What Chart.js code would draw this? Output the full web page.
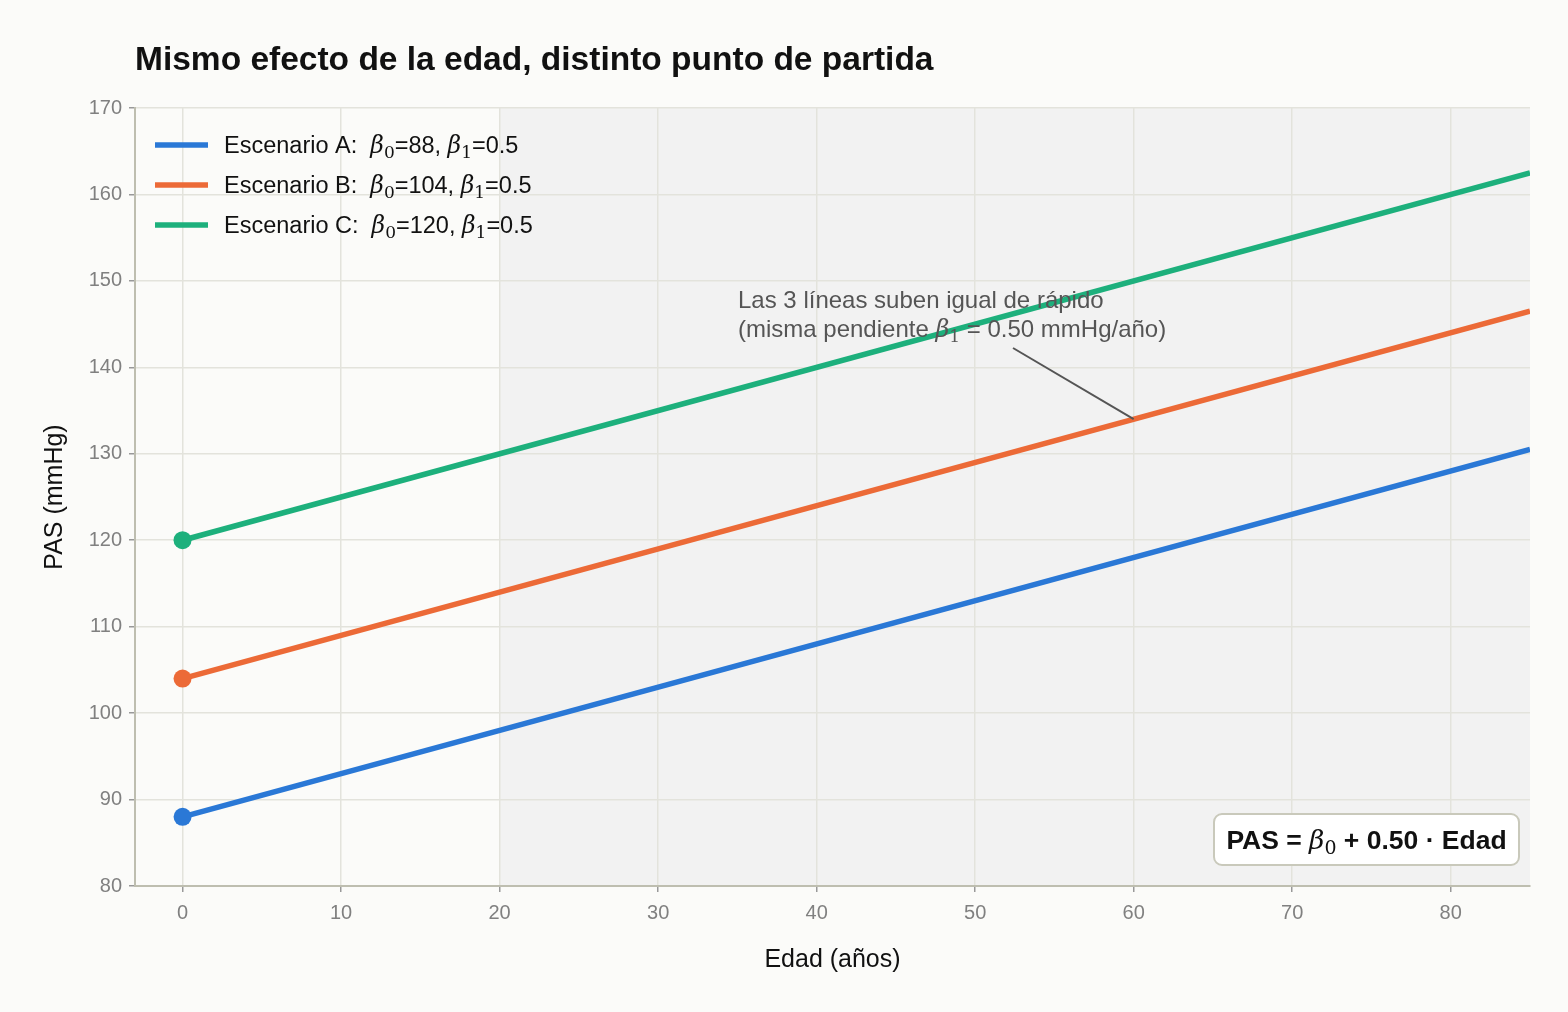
<!DOCTYPE html>
<html>
<head>
<meta charset="utf-8">
<script src="https://cdn.jsdelivr.net/npm/chart.js@4.4.1/dist/chart.umd.min.js"></script>
<style>
  html, body { margin: 0; padding: 0; background: #fbfbf9; }
  #wrap { width: 1568px; height: 1012px; }
</style>
</head>
<body>
<div id="wrap"><canvas id="chart" width="1568" height="1012"></canvas></div>
<script>
// datos
const edad = [0, 85];
const pasA = [88, 130.5];
const pasB = [104, 146.5];
const pasC = [120, 162.5];
const b0 = ['88', '104', '120'];
const b1 = '0.5';
const nombres = ['Escenario A', 'Escenario B', 'Escenario C'];
const colores = ['#2a78d6', '#ec6a37', '#1db07c'];
const xTicks = [0, 10, 20, 30, 40, 50, 60, 70, 80];
const zonaSombra = [20, 85];
const flecha = [60, 134]; // punto al que apunta la nota

const SANS = '"Liberation Sans", Arial, sans-serif';
const SERIF = '"DejaVu Serif", "Liberation Serif", serif';

// dibuja un texto con trozos de distinta fuente (para beta con subindice)
function richText(ctx, x, y, parts, align) {
    let w = 0;
    parts.forEach(p => { ctx.font = p.font; w += ctx.measureText(p.t).width; });
    let cx = align === 'center' ? x - w / 2 : x;
    parts.forEach(p => {
        ctx.font = p.font;
        ctx.fillText(p.t, cx, y + (p.dy || 0));
        cx += ctx.measureText(p.t).width;
    });
}

function betaParts(size) {
    return function (sub) {
        return [
            { t: 'β', font: 'italic ' + size + 'px ' + SERIF },
            { t: sub, font: Math.round(size * 0.72) + 'px ' + SERIF, dy: size * 0.2 }
        ];
    };
}

function toData(ys) {
    return edad.map((x, i) => ({ x: x, y: ys[i] }));
}

const extras = {
    id: 'extras',
    beforeDraw(chart) {
        const { ctx, chartArea, scales } = chart;
        ctx.save();
        ctx.fillStyle = '#fbfbf9';
        ctx.fillRect(0, 0, chart.width, chart.height);
        const x0 = scales.x.getPixelForValue(zonaSombra[0]);
        const x1 = scales.x.getPixelForValue(zonaSombra[1]);
        ctx.fillStyle = '#f2f2f2';
        ctx.fillRect(x0, chartArea.top, x1 - x0, chartArea.bottom - chartArea.top);
        // titulo
        ctx.fillStyle = '#111';
        ctx.font = 'bold 33.5px ' + SANS;
        ctx.textBaseline = 'alphabetic';
        ctx.fillText('Mismo efecto de la edad, distinto punto de partida', 135, 70);
        ctx.restore();
    },
    afterDraw(chart) {
        const { ctx, scales } = chart;
        ctx.save();
        ctx.textBaseline = 'alphabetic';

        // leyenda
        const size = 23.5;
        const beta = betaParts(size);
        nombres.forEach((n, i) => {
            const y = 145 + i * 40;
            ctx.strokeStyle = colores[i];
            ctx.lineWidth = 5.5;
            ctx.beginPath();
            ctx.moveTo(155, y);
            ctx.lineTo(208, y);
            ctx.stroke();
            ctx.fillStyle = '#111';
            const sans = size + 'px ' + SANS;
            richText(ctx, 224, y + 8, [
                { t: n + ':  ', font: sans },
                ...beta('0'),
                { t: '=' + b0[i] + ', ', font: sans },
                ...beta('1'),
                { t: '=' + b1, font: sans }
            ]);
        });

        // nota con linea
        const px = scales.x.getPixelForValue(flecha[0]);
        const py = scales.y.getPixelForValue(flecha[1]);
        ctx.strokeStyle = '#555';
        ctx.lineWidth = 2;
        ctx.beginPath();
        ctx.moveTo(1013, 348);
        ctx.lineTo(px, py);
        ctx.stroke();
        ctx.fillStyle = '#555';
        const f = '24px ' + SANS;
        ctx.font = f;
        ctx.fillText('Las 3 líneas suben igual de rápido', 738, 308);
        richText(ctx, 738, 337, [
            { t: '(misma pendiente ', font: f },
            ...betaParts(24)('1'),
            { t: ' = 0.50 mmHg/año)', font: f }
        ]);

        // recuadro con la ecuacion
        const bx = 1214, by = 814, bw = 305, bh = 51;
        ctx.beginPath();
        ctx.roundRect(bx, by, bw, bh, 8);
        ctx.fillStyle = '#ffffff';
        ctx.fill();
        ctx.strokeStyle = '#c9c9bb';
        ctx.lineWidth = 2;
        ctx.stroke();
        ctx.fillStyle = '#111';
        const fb = 'bold 26.5px ' + SANS;
        richText(ctx, bx + bw / 2, by + 35, [
            { t: 'PAS = ', font: fb },
            { t: 'β', font: 'italic 26.5px ' + SERIF },
            { t: '0', font: '19px ' + SERIF, dy: 5 },
            { t: ' + 0.50 · Edad', font: fb }
        ], 'center');
        ctx.restore();
    }
};

const tickFont = { family: SANS, size: 20 };

new Chart(document.getElementById('chart'), {
    type: 'line',
    data: {
        datasets: [pasA, pasB, pasC].map((ys, i) => ({
            label: nombres[i],
            data: toData(ys),
            borderColor: colores[i],
            backgroundColor: colores[i],
            borderWidth: 5.5,
            pointRadius: [9, 0],
            pointHoverRadius: [9, 0],
            pointBorderWidth: 0,
            tension: 0
        }))
    },
    options: {
        responsive: false,
        animation: false,
        devicePixelRatio: 1,
        layout: { padding: { top: 108, right: 38, left: 0, bottom: 0 } },
        plugins: { legend: { display: false }, tooltip: { enabled: false }, title: { display: false } },
        scales: {
            x: {
                type: 'linear',
                min: -3,
                max: 85,
                afterBuildTicks: s => { s.ticks = xTicks.map(v => ({ value: v })); },
                afterFit: s => { s.height = 126; },
                grid: { color: '#e3e3dc', lineWidth: 1.5, tickLength: 6, tickColor: '#999', drawTicks: true },
                border: { color: '#bebeb0', width: 2 },
                ticks: { color: '#808080', font: tickFont, padding: 9 },
                title: { display: true, text: 'Edad (años)', color: '#111', font: { family: SANS, size: 25 }, padding: { top: 0, bottom: 37 } }
            },
            y: {
                min: 80,
                max: 170,
                ticks: { stepSize: 10, color: '#808080', font: tickFont, padding: 7 },
                afterFit: s => { s.width = 135; },
                grid: { color: '#e3e3dc', lineWidth: 1.5, tickLength: 6, tickColor: '#999' },
                border: { color: '#bebeb0', width: 2 },
                title: { display: true, text: 'PAS (mmHg)', color: '#111', font: { family: SANS, size: 25 }, padding: { top: 40, bottom: 0 } }
            }
        }
    },
    plugins: [extras]
});
</script>
</body>
</html>
